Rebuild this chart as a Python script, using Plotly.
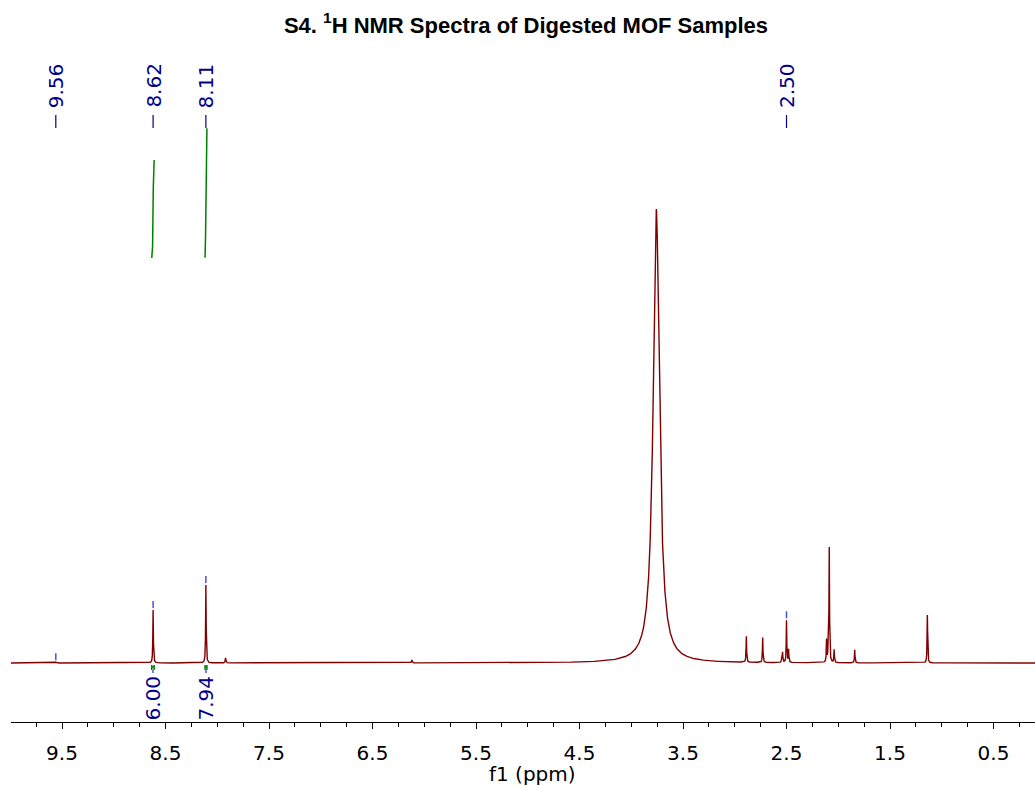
import numpy as np
import plotly.graph_objects as go

# ---- data ----
peak_ppm    = [9.56, 8.62, 8.11, 7.92, 6.12, 3.758, 2.888, 2.730, 2.547, 2.538, 2.500, 2.480,
               2.113, 2.097, 2.087, 2.040, 1.841, 1.139]
peak_height = [0.8, 53, 78, 5, 3, 454, 26, 25, 4, 10, 42, 13,
               22, 18, 114, 13, 13, 48]
peak_hwhm   = [0.003, 0.003, 0.003, 0.004, 0.004, 0.036, 0.003, 0.003, 0.003, 0.003, 0.003, 0.003,
               0.003, 0.003, 0.003, 0.003, 0.003, 0.003]

label_ppm = [9.56, 8.62, 8.11, 2.50]
label_text = ["9.56", "8.62", "8.11", "2.50"]

integral_lo = [8.610, 8.100]
integral_hi = [8.633, 8.118]
integral_val = [6.00, 7.94]
integral_text = ["6.00", "7.94"]

title_text = "<b>S4. <sup>1</sup>H NMR Spectra of Digested MOF Samples</b>"
x_title = "f1 (ppm)"

# ---- build spectrum ----
grid = np.arange(0.09, 10.0, 0.0005)
grid = np.unique(np.concatenate([grid, np.array(peak_ppm)]))[::-1]

def spectrum(x):
    y = np.zeros_like(x, dtype=float)
    for p, h, g in zip(peak_ppm, peak_height, peak_hwhm):
        y += h / (1.0 + ((x - p) / g) ** 2)
    return y

spec = spectrum(grid)

RED = "rgb(128,0,0)"
NAVY = "rgb(0,0,140)"
MARK = "rgb(80,80,200)"
GREEN = "rgb(0,128,0)"

fig = go.Figure()
fig.add_trace(go.Scatter(x=grid, y=spec, mode="lines",
                         line=dict(color=RED, width=1.4), hoverinfo="skip"))

# integral curves
INT_BASE = 405
INT_SCALE = 16.35
for lo, hi, val in zip(integral_lo, integral_hi, integral_val):
    xs = np.linspace(hi, lo, 200)
    ys = spectrum(xs)
    c = np.cumsum(ys)
    c = c / c[-1]
    fig.add_trace(go.Scatter(x=xs, y=INT_BASE + c * val * INT_SCALE, mode="lines",
                             line=dict(color=GREEN, width=1.5), hoverinfo="skip"))
    # bracket at baseline
    fig.add_trace(go.Scatter(x=[hi, lo, None, hi, hi, None, lo, lo],
                             y=[-4, -4, None, -2, -7, None, -2, -7], mode="lines",
                             line=dict(color=GREEN, width=1.5), hoverinfo="skip"))
    mid = (lo + hi) / 2
    fig.add_trace(go.Scatter(x=[mid, mid], y=[-7, -10], mode="lines",
                             line=dict(color=MARK, width=1.5), hoverinfo="skip"))

for lo, hi, t in zip(integral_lo, integral_hi, integral_text):
    fig.add_annotation(x=(lo + hi) / 2, y=-10, xref="x", yref="y", text=t, textangle=-90,
                       showarrow=False, xanchor="center", yanchor="top",
                       font=dict(family="DejaVu Sans", size=20, color=NAVY))

# peak markers and top labels
for p, t in zip(label_ppm, label_text):
    h = float(spectrum(np.array([p]))[0])
    fig.add_trace(go.Scatter(x=[p, p], y=[h + 2, h + 9], mode="lines",
                             line=dict(color=MARK, width=1.5), hoverinfo="skip"))
    fig.add_trace(go.Scatter(x=[p, p], y=[535, 548], mode="lines",
                             line=dict(color=NAVY, width=1.2), hoverinfo="skip"))
    fig.add_annotation(x=p, y=553, xref="x", yref="y", text=t, textangle=-90,
                       showarrow=False, xanchor="center", yanchor="bottom",
                       font=dict(family="DejaVu Sans", size=20, color=NAVY))

# axis title placed as in the reference
fig.add_annotation(x=(532 - 11) / 1024, y=(722 - 774) / 682, xref="x domain", yref="paper",
                   text=x_title, showarrow=False, xanchor="center", yanchor="middle",
                   font=dict(family="DejaVu Sans", size=20, color="black"))

fig.update_layout(
    width=1035, height=787,
    margin=dict(l=11, r=0, t=40, b=65),
    paper_bgcolor="white", plot_bgcolor="white",
    showlegend=False,
    title=dict(text=title_text, x=(526 - 11) / 1024, xref="paper", xanchor="center",
               y=1 - 25 / 787, yref="container", yanchor="middle",
               font=dict(family="Liberation Sans, Arial", size=22, color="black")),
    xaxis=dict(range=[9.993, 0.099], showgrid=False, zeroline=False,
               showline=True, linecolor="black", linewidth=1,
               ticks="outside", ticklen=6, tickcolor="black", tickwidth=1,
               tick0=0.5, dtick=1, tickformat=".1f",
               ticklabelstandoff=7,
               minor=dict(ticks="outside", ticklen=4, tickcolor="black", dtick=0.25, tick0=0.5),
               tickfont=dict(family="DejaVu Sans", size=20, color="black")),
    yaxis=dict(range=[-59, 623], visible=False, showgrid=False, zeroline=False),
)

fig.write_html("out.html")
